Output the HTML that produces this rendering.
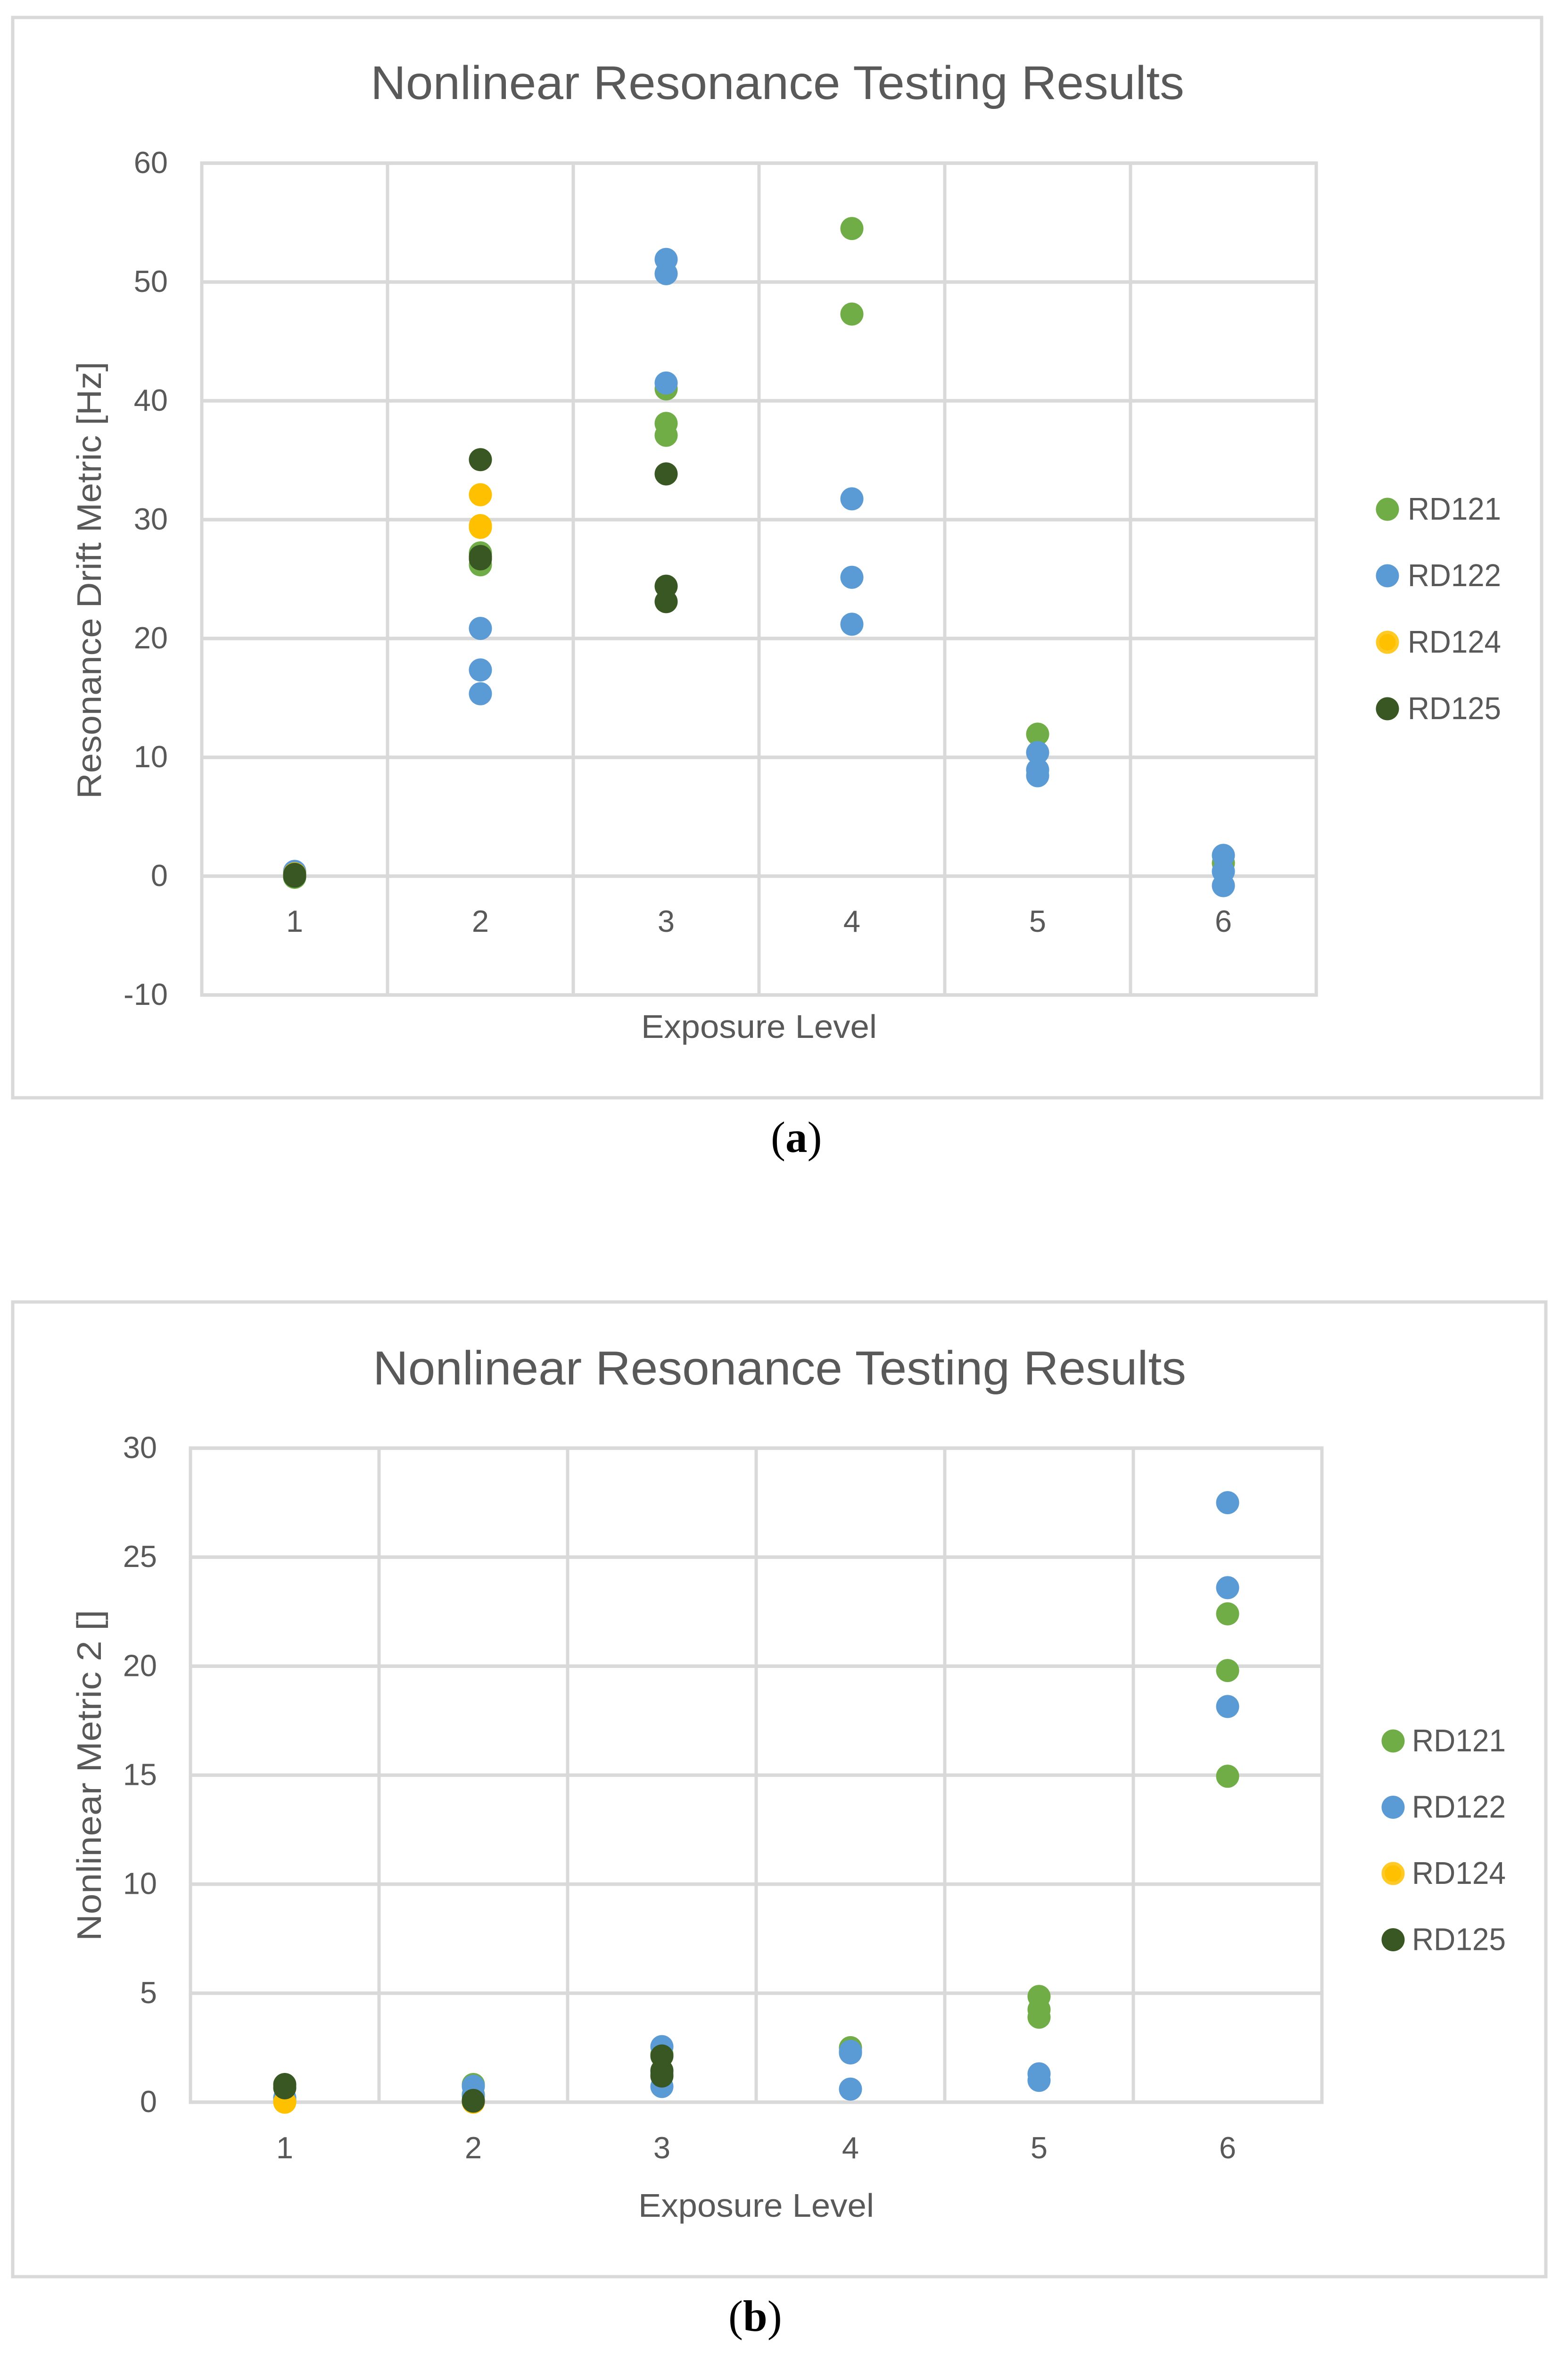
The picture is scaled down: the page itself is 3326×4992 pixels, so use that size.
<!DOCTYPE html>
<html lang="en">
<head>
<meta charset="utf-8">
<title>Nonlinear Resonance Testing Results</title>
<style>
html,body{margin:0;padding:0;background:#fff;width:3326px;height:4992px;overflow:hidden}
svg{display:block}
text{font-family:"Liberation Sans",sans-serif;fill:#595959}
.cap{font-family:"Liberation Serif",serif;fill:#000;font-size:93px}
</style>
</head>
<body>
<svg id="figure" xmlns="http://www.w3.org/2000/svg" width="3326" height="4992" viewBox="0 0 3326 4992">
  <rect x="0" y="0" width="3326" height="4992" fill="#ffffff"/>
  <g id="panel-a">
    <rect x="27" y="37" width="3243" height="2291" fill="#ffffff" stroke="#d9d9d9" stroke-width="7"/>
    <text x="786" y="210" font-size="100" textLength="1726" lengthAdjust="spacingAndGlyphs">Nonlinear Resonance Testing Results</text>
    <text x="1360" y="2201" font-size="70" textLength="500" lengthAdjust="spacingAndGlyphs">Exposure Level</text>
    <text transform="translate(214 1694) rotate(-90)" x="0" y="0" font-size="72" textLength="927" lengthAdjust="spacingAndGlyphs">Resonance Drift Metric [Hz]</text>
    <g id="plot-a"></g>
    <g id="legend-a"></g>
  </g>
  <text class="cap" x="1635" y="2443">(<tspan font-weight="bold">a</tspan>)</text>

  <g id="panel-b">
    <rect x="27" y="2761" width="3252" height="2067" fill="#ffffff" stroke="#d9d9d9" stroke-width="7"/>
    <text x="791" y="2936" font-size="101" textLength="1725" lengthAdjust="spacingAndGlyphs">Nonlinear Resonance Testing Results</text>
    <text x="1354" y="4701" font-size="70" textLength="500" lengthAdjust="spacingAndGlyphs">Exposure Level</text>
    <text transform="translate(214 4116) rotate(-90)" x="0" y="0" font-size="72" textLength="702" lengthAdjust="spacingAndGlyphs">Nonlinear Metric 2 []</text>
    <g id="plot-b"></g>
    <g id="legend-b"></g>
  </g>
  <text class="cap" x="1545" y="4943">(<tspan font-weight="bold">b</tspan>)</text>
</svg>
<script>
// Shared categories and series names
const exposureLevels = [1, 2, 3, 4, 5, 6];
const seriesNames = ['RD121', 'RD122', 'RD124', 'RD125'];

// Chart (a): y-axis ticks
const driftTicks = [-10, 0, 10, 20, 30, 40, 50, 60];

// Chart (a): resonance drift, level and value per point
const driftRD121Levels = [1, 1, 2, 2, 3, 3, 3, 4, 4, 5, 6];
const driftRD121Values = [0.25, -0.1, 27.2, 26.2, 41.0, 38.1, 37.1, 54.5, 47.3, 11.95, 1.1];
const driftRD122Levels = [1, 1, 2, 2, 2, 3, 3, 3, 4, 4, 4, 5, 5, 5, 6, 6, 6];
const driftRD122Values = [0.4, 0.15, 20.85, 17.35, 15.35, 51.9, 50.7, 41.5, 31.75, 25.15, 21.2, 10.4, 8.95, 8.45, 1.75, 0.4, -0.8];
const driftRD124Levels = [1, 2, 2, 2];
const driftRD124Values = [0.2, 32.1, 29.5, 29.35];
const driftRD125Levels = [1, 1, 2, 2, 2, 3, 3, 3];
const driftRD125Values = [0.15, 0, 35.05, 26.9, 26.7, 33.85, 24.4, 23.1];

// Chart (b): y-axis ticks
const metricTicks = [0, 5, 10, 15, 20, 25, 30];

// Chart (b): nonlinear metric 2, level and value per point
const metricRD121Levels = [1, 2, 2, 3, 3, 4, 5, 5, 5, 6, 6, 6];
const metricRD121Values = [0.1, 0.81, 0.35, 2.2, 1.3, 2.5, 4.85, 4.25, 3.9, 22.4, 19.8, 14.95];
const metricRD122Levels = [1, 2, 2, 3, 3, 3, 4, 4, 4, 5, 5, 6, 6, 6];
const metricRD122Values = [0.2, 0.73, 0.3, 2.55, 1.3, 0.72, 2.33, 2.26, 0.6, 1.3, 1.0, 27.5, 23.6, 18.15];
const metricRD124Levels = [1, 2];
const metricRD124Values = [0.0, 0.0];
const metricRD125Levels = [1, 1, 2, 2, 3, 3, 3];
const metricRD125Values = [0.81, 0.66, 0.08, 0.05, 2.12, 1.45, 1.2];

const NS = 'http://www.w3.org/2000/svg';
const seriesColors = ['#70ad47', '#5b9bd5', '#ffc000', '#385723'];
const MARKER_R = 24.5;
const GRID = '#d9d9d9';

function makeEl(tag, parent) {
  const el = document.createElementNS(NS, tag);
  parent.appendChild(el);
  return el;
}

function linearAxis(d0, d1, r0, r1) {
  return function (v) { return r0 + (v - d0) * (r1 - r0) / (d1 - d0); };
}

function drawChart(opts) {
  const plot = document.getElementById(opts.plotId);
  const legend = document.getElementById(opts.legendId);
  const xAxis = linearAxis(0.5, 6.5, opts.left, opts.right);
  const yTicks = opts.ticks;
  const yAxis = linearAxis(yTicks[0], yTicks[yTicks.length - 1], opts.bottom, opts.top);

  // horizontal gridlines and y tick labels
  yTicks.forEach(function (t) {
    const line = makeEl('line', plot);
    
    
    line.setAttribute('x1', opts.left - 3.5);
    line.setAttribute('x2', opts.right + 3.5);
    line.setAttribute('y1', yAxis(t));
    line.setAttribute('y2', yAxis(t));
    line.setAttribute('stroke', GRID);
    line.setAttribute('stroke-width', 7.5);

    const label = makeEl('text', plot);
    
    
    label.setAttribute('x', opts.yLabelX);
    label.setAttribute('y', yAxis(t) + 21);
    label.setAttribute('text-anchor', 'end');
    label.setAttribute('font-size', 65);
    label.textContent = String(t);
  });

  // vertical gridlines and x tick labels
  for (let i = 0; i <= exposureLevels.length; i++) {
    const gx = xAxis(0.5 + i);
    const line = makeEl('line', plot);
    
    
    line.setAttribute('x1', gx);
    line.setAttribute('x2', gx);
    line.setAttribute('y1', opts.top);
    line.setAttribute('y2', opts.bottom);
    line.setAttribute('stroke', GRID);
    line.setAttribute('stroke-width', 7);
  }
  exposureLevels.forEach(function (lv) {
    const label = makeEl('text', plot);
    
    
    label.setAttribute('x', xAxis(lv));
    label.setAttribute('y', opts.xLabelY);
    label.setAttribute('text-anchor', 'middle');
    label.setAttribute('font-size', 65);
    label.textContent = String(lv);
  });

  // points
  seriesNames.forEach(function (name, s) {
    const levels = opts.levels[s];
    const values = opts.values[s];
    const group = makeEl('g', plot);
    
    
    values.forEach(function (v, i) {
      const dot = makeEl('circle', group);
      
      
      dot.setAttribute('cx', xAxis(levels[i]));
      dot.setAttribute('cy', yAxis(v));
      dot.setAttribute('r', MARKER_R);
      dot.setAttribute('fill', seriesColors[s]);
    });

    // legend entry
    const ly = opts.legendY + s * opts.legendStep;
    const entry = makeEl('g', legend);
    
    
    const swatch = makeEl('circle', entry);
    
    
    swatch.setAttribute('cx', opts.legendX);
    swatch.setAttribute('cy', ly);
    swatch.setAttribute('r', name === 'RD124' ? 21 : MARKER_R);
    swatch.setAttribute('fill', seriesColors[s]);
    if (name === 'RD124') {
      swatch.setAttribute('stroke', '#ffc926');
      swatch.setAttribute('stroke-width', 7);
    }
    const text = makeEl('text', entry);
    
    
    text.setAttribute('x', opts.legendTextX);
    text.setAttribute('y', ly + 22);
    text.setAttribute('font-size', 67);
    text.setAttribute('textLength', opts.legendTextW);
    text.setAttribute('lengthAdjust', 'spacingAndGlyphs');
    text.textContent = name;
  });
}

drawChart({
  plotId: 'plot-a', legendId: 'legend-a',
  left: 428, right: 2792, top: 346, bottom: 2110,
  ticks: driftTicks,
  levels: [driftRD121Levels, driftRD122Levels, driftRD124Levels, driftRD125Levels],
  values: [driftRD121Values, driftRD122Values, driftRD124Values, driftRD125Values],
  yLabelX: 356, xLabelY: 1976,
  legendX: 2943, legendY: 1080, legendStep: 141, legendTextX: 2986, legendTextW: 198
});

drawChart({
  plotId: 'plot-b', legendId: 'legend-b',
  left: 404, right: 2804, top: 3071, bottom: 4458,
  ticks: metricTicks,
  levels: [metricRD121Levels, metricRD122Levels, metricRD124Levels, metricRD125Levels],
  values: [metricRD121Values, metricRD122Values, metricRD124Values, metricRD125Values],
  yLabelX: 333, xLabelY: 4577,
  legendX: 2955, legendY: 3692, legendStep: 140.5, legendTextX: 2995, legendTextW: 199
});
</script>
</body>
</html>
